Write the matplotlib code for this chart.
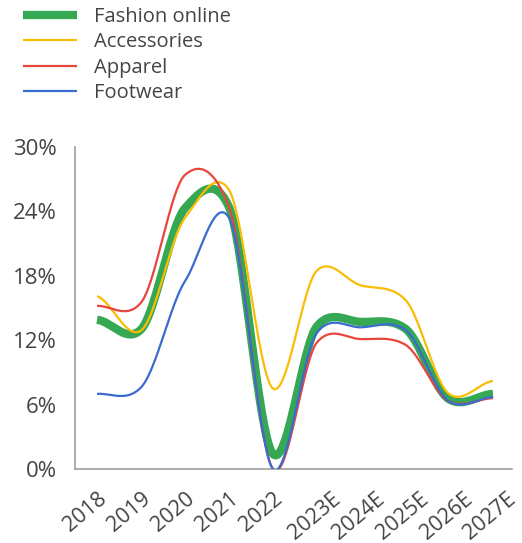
import numpy as np
import matplotlib
matplotlib.use("Agg")
import matplotlib.pyplot as plt
import matplotlib.transforms as mtransforms
from matplotlib.ticker import FuncFormatter

plt.rcParams['font.family'] = ['Open Sans', 'DejaVu Sans']

years = ["2018", "2019", "2020", "2021", "2022", "2023E", "2024E", "2025E", "2026E", "2027E"]
fashion_online = [13.9, 13.0, 24.3, 24.4, 1.4, 13.3, 13.7, 13.1, 6.5, 7.0]
accessories = [16.1, 12.9, 23.4, 26.0, 7.5, 18.5, 17.1, 15.8, 7.0, 8.2]
apparel = [15.2, 15.5, 27.4, 24.4, 0.0, 11.8, 12.1, 11.6, 6.3, 6.6]
footwear = [7.0, 7.6, 17.5, 23.4, 0.0, 12.7, 13.2, 13.0, 6.3, 6.7]

series = [
    ("Fashion online", fashion_online, "#34A853", 6.0),
    ("Accessories", accessories, "#FBBC04", 1.6),
    ("Apparel", apparel, "#E8453C", 1.6),
    ("Footwear", footwear, "#3A6BD1", 1.6),
]


def smooth(y, s=0.8, n=40):
    y = np.asarray(y, dtype=float)
    k = len(y)
    m = np.zeros(k)
    m[1:-1] = (y[2:] - y[:-2]) / 2.0
    m[0] = (y[1] - y[0]) / 2.0
    m[-1] = (y[-1] - y[-2]) / 2.0
    m *= s
    xs, ys = [], []
    t = np.linspace(0, 1, n, endpoint=False)
    h00 = 2 * t**3 - 3 * t**2 + 1
    h10 = t**3 - 2 * t**2 + t
    h01 = -2 * t**3 + 3 * t**2
    h11 = t**3 - t**2
    for i in range(k - 1):
        xs.append(i + t)
        ys.append(h00 * y[i] + h10 * m[i] + h01 * y[i + 1] + h11 * m[i + 1])
    xs.append(np.array([k - 1.0]))
    ys.append(np.array([y[-1]]))
    return np.concatenate(xs), np.concatenate(ys)


fig = plt.figure(figsize=(5.22, 5.43), dpi=100)
ax = fig.add_axes([0.1437, 0.1363, 0.837, 0.593])

for idx, (name, vals, color, lw) in enumerate(series):
    xs, ys = smooth(vals)
    ax.plot(xs, ys, color=color, lw=lw, label=name, solid_capstyle='butt',
            zorder=2 if idx == 0 else 3)

ax.set_xlim(-0.5, 9.43)
ax.set_ylim(0, 30)
ax.set_yticks([0, 6, 12, 18, 24, 30])
ax.yaxis.set_major_formatter(FuncFormatter(lambda v, p: f"{v:.0f}%"))
ax.set_xticks(range(len(years)))
ax.set_xticklabels(years, rotation=40, ha='right', rotation_mode='anchor')

for s in ["top", "right"]:
    ax.spines[s].set_visible(False)
for s in ["left", "bottom"]:
    ax.spines[s].set_color("#9e9e9e")
    ax.spines[s].set_linewidth(1.2)
ax.tick_params(axis='y', length=0, labelsize=16, labelcolor="#444444", pad=13)
ax.tick_params(axis='x', length=0, labelsize=15.5, labelcolor="#444444", pad=14)

# estimated-year labels sit a little further right in the reference
shift = mtransforms.ScaledTranslation(10 / 72, 0, fig.dpi_scale_trans)
for lab in ax.get_xticklabels():
    if lab.get_text().endswith("E"):
        lab.set_transform(lab.get_transform() + shift)

leg = fig.legend(loc='upper left', bbox_to_anchor=(0.029, 1.002), frameon=False,
                 fontsize=14.5, handlelength=2.65, handletextpad=0.88,
                 labelspacing=0.27, borderaxespad=0)
for t in leg.get_texts():
    t.set_color("#444444")

fig.savefig("out.png", dpi=100)
